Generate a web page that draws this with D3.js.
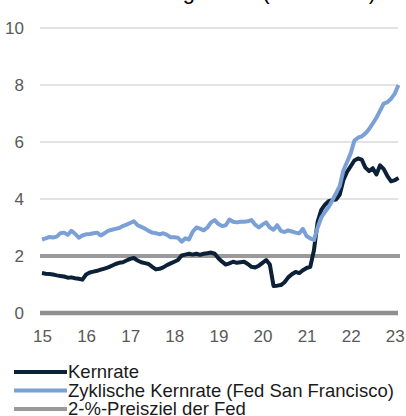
<!DOCTYPE html>
<html>
<head>
<meta charset="utf-8">
<script src="https://cdn.jsdelivr.net/npm/d3@7"></script>
<style>
  body { margin: 0; background: #fff; }
  svg { display: block; font-family: Arial, "Liberation Sans", sans-serif; }
</style>
</head>
<body>
<svg id="chart" width="406" height="416"></svg>
<script>
// monthly values, Jan 2015 .. Feb 2023
const startYear = 2015
const kernrate = [
  1.40, 1.38, 1.37, 1.35, 1.32, 1.30, 1.28, 1.24, 1.25, 1.22, 1.20, 1.17,
  1.35, 1.42, 1.45, 1.48, 1.52, 1.56, 1.60, 1.66, 1.72, 1.76, 1.78, 1.84,
  1.90, 1.93, 1.84, 1.78, 1.75, 1.72, 1.62, 1.53, 1.55, 1.60, 1.68, 1.74,
  1.80, 1.86, 2.02, 2.05, 2.08, 2.05, 2.08, 2.04, 2.08, 2.10, 2.12, 2.08,
  1.92, 1.80, 1.70, 1.74, 1.80, 1.76, 1.78, 1.80, 1.72, 1.62, 1.60, 1.66,
  1.76, 1.86, 1.70, 0.95, 0.96, 0.98, 1.08, 1.25, 1.36, 1.44, 1.40, 1.50,
  1.58, 1.62, 2.20, 3.20, 3.62, 3.80, 3.92, 3.96, 3.98, 4.15, 4.66, 4.95,
  5.15, 5.35, 5.42, 5.38, 5.10, 4.98, 5.08, 4.86, 5.18, 5.05, 4.80, 4.62,
  4.66, 4.74
]
const zyklisch = [
  2.58, 2.62, 2.67, 2.65, 2.68, 2.80, 2.82, 2.74, 2.88, 2.78, 2.64, 2.72,
  2.76, 2.77, 2.80, 2.82, 2.72, 2.80, 2.88, 2.92, 2.95, 2.98, 3.05, 3.10,
  3.16, 3.22, 3.08, 3.02, 2.96, 2.88, 2.82, 2.80, 2.76, 2.80, 2.74, 2.66,
  2.66, 2.64, 2.50, 2.62, 2.58, 2.85, 3.00, 2.96, 2.90, 3.00, 3.18, 3.26,
  3.12, 3.05, 3.08, 3.28, 3.20, 3.18, 3.20, 3.20, 3.22, 3.26, 3.10, 3.00,
  3.10, 3.18, 3.00, 2.92, 3.08, 2.88, 2.84, 2.90, 2.86, 2.82, 2.80, 2.95,
  2.70, 2.62, 2.56, 3.00, 3.35, 3.55, 3.72, 3.95, 4.20, 4.45, 5.00, 5.30,
  5.60, 6.05, 6.15, 6.20, 6.30, 6.45, 6.65, 6.85, 7.10, 7.35, 7.40, 7.52,
  7.70, 8.00
]
const preisziel = 2
const yTicks = [0, 2, 4, 6, 8, 10]
const xTicks = [2015, 2016, 2017, 2018, 2019, 2020, 2021, 2022, 2023]
const xTickLabels = ['15', '16', '17', '18', '19', '20', '21', '22', '23']
const seriesNames = ['Kernrate', 'Zyklische Kernrate (Fed San Francisco)', '2-%-Preisziel der Fed']
const title = 'Teuerungsraten (in Prozent)'

const colors = { kern: '#0c2037', zyk: '#7ba0d6', ziel: '#9a9a9a', zero: '#8f8f8f', grid: '#c6c6c6', text: '#595959' }

const svg = d3.select('#chart')
const plotLeft = 40
const plotRight = 398

const x = d3.scaleLinear().domain([2015, 2023]).range([42, 394.8])
const y = d3.scaleLinear().domain([0, 10]).range([313, 28])

const monthX = (d, i) => x(startYear + i / 12)

// title, cut off by the top edge (only descenders show)
svg.append('text')
  .attr('x', 376)
  .attr('y', -1)
  .attr('text-anchor', 'end')
  .attr('font-size', 22)
  .attr('fill', '#000')
  .text(title)

// gridlines (0 and 2 drawn separately as thick lines)
svg.append('g').selectAll('line')
  .data(yTicks.filter(d => d > 2))
  .join('line')
  .attr('x1', plotLeft)
  .attr('x2', plotRight)
  .attr('y1', d => y(d))
  .attr('y2', d => y(d))
  .attr('stroke', colors.grid)
  .attr('stroke-width', 1)

// y axis labels
const yAxis = svg.append('g')
  .attr('transform', `translate(${plotLeft},0)`)
  .call(d3.axisLeft(y).tickValues(yTicks).tickSize(0).tickPadding(16).tickFormat(d3.format('d')))
yAxis.select('.domain').remove()
yAxis.selectAll('text')
  .attr('font-size', 17)
  .attr('font-family', 'Arial, "Liberation Sans", sans-serif')
  .attr('fill', colors.text)

// x axis labels
const xAxis = svg.append('g')
  .attr('transform', `translate(0,${y(0)})`)
  .call(d3.axisBottom(x).tickValues(xTicks).tickSize(0).tickPadding(17).tickFormat((d, i) => xTickLabels[i]))
xAxis.select('.domain').remove()
xAxis.selectAll('text')
  .attr('font-size', 17)
  .attr('font-family', 'Arial, "Liberation Sans", sans-serif')
  .attr('fill', colors.text)

// zero line
svg.append('line')
  .attr('x1', plotLeft)
  .attr('x2', plotRight)
  .attr('y1', y(0))
  .attr('y2', y(0))
  .attr('stroke', colors.zero)
  .attr('stroke-width', 4.5)

// 2% target line
svg.append('line')
  .attr('x1', plotLeft)
  .attr('x2', plotRight + 2)
  .attr('y1', y(preisziel))
  .attr('y2', y(preisziel))
  .attr('stroke', colors.ziel)
  .attr('stroke-width', 4)

const line = d3.line()
  .x(monthX)
  .y(d => y(d))

svg.append('path')
  .datum(kernrate)
  .attr('d', line)
  .attr('fill', 'none')
  .attr('stroke', colors.kern)
  .attr('stroke-width', 4)
  .attr('stroke-linejoin', 'round')

svg.append('path')
  .datum(zyklisch)
  .attr('d', line)
  .attr('fill', 'none')
  .attr('stroke', colors.zyk)
  .attr('stroke-width', 4)
  .attr('stroke-linejoin', 'round')

// legend
const legendColors = [colors.kern, colors.zyk, colors.ziel]
const legend = svg.append('g')
  .attr('transform', 'translate(14, 372)')

const rows = legend.selectAll('g')
  .data(seriesNames)
  .join('g')
  .attr('transform', (d, i) => `translate(0, ${i * 18.5})`)

rows.append('line')
  .attr('x1', 0)
  .attr('x2', 53)
  .attr('stroke', (d, i) => legendColors[i])
  .attr('stroke-width', 4)

rows.append('text')
  .attr('x', 54)
  .attr('y', 6)
  .attr('font-size', 18.5)
  .attr('fill', '#1a1a1a')
  .text(d => d)
</script>
</body>
</html>
